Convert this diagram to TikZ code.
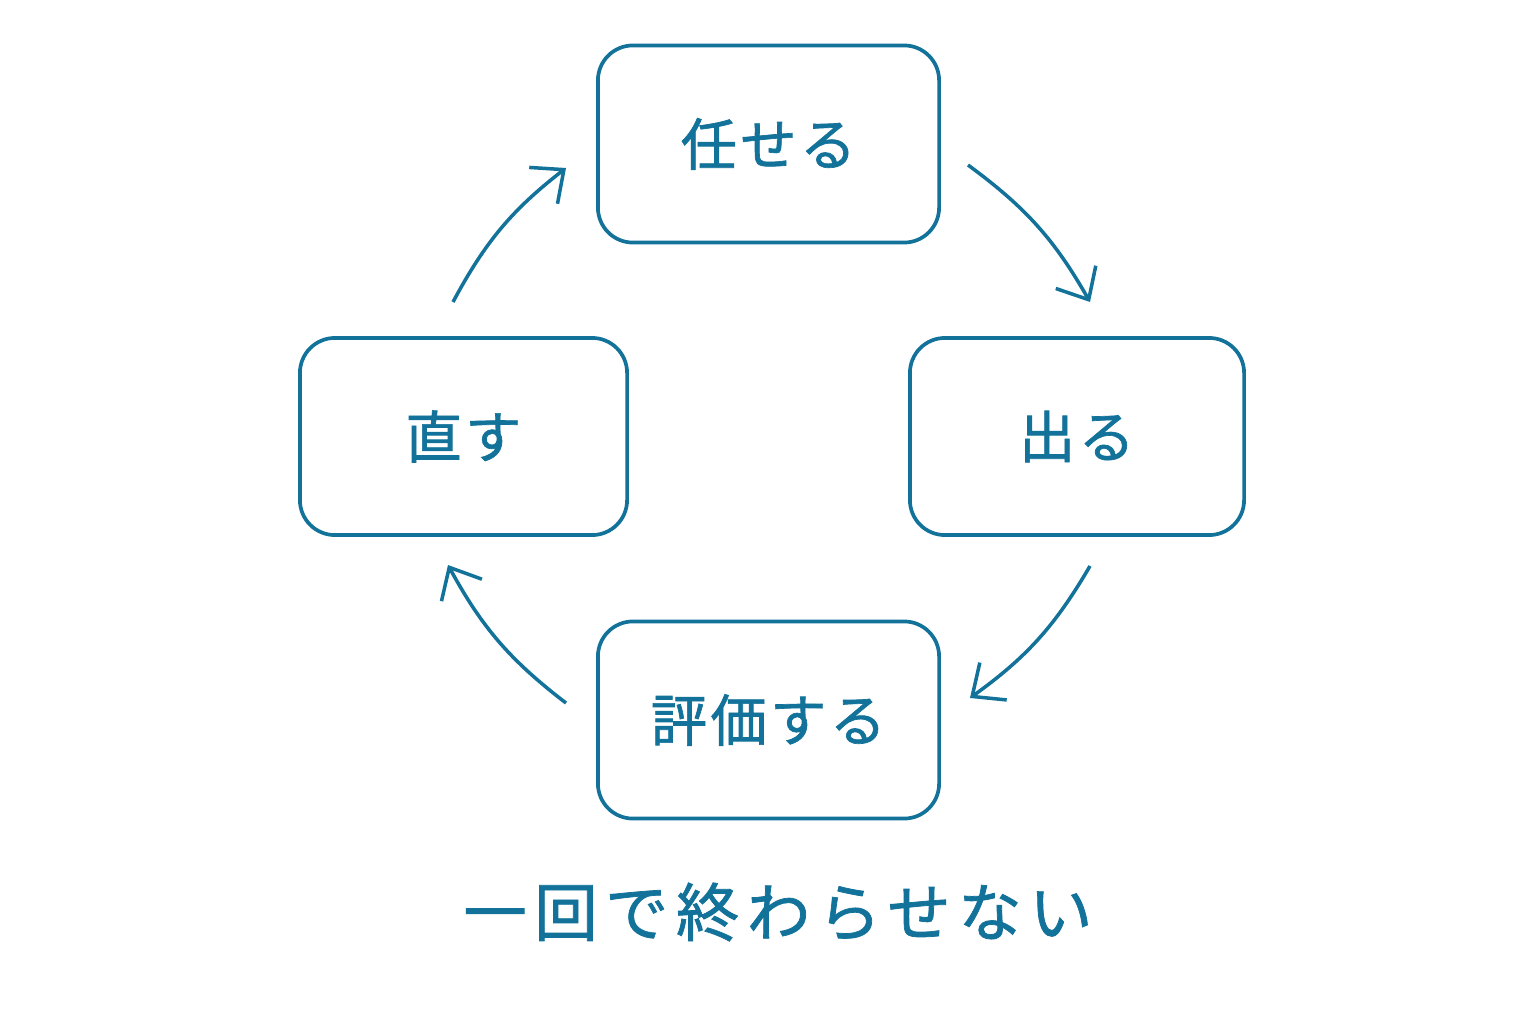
\documentclass[tikz,border=0pt]{standalone}
\usepackage{fontspec}
\newfontfamily\cjk[LetterSpace=6,FakeBold=1.2]{Noto Sans CJK JP}
\newfontfamily\cjkwide[LetterSpace=12,FakeBold=1.2]{Noto Sans CJK JP}
\usetikzlibrary{arrows.meta}
\definecolor{cyc}{HTML}{12729A}
\tikzset{
    stage/.style={draw=cyc, line width=1.05pt, rounded corners=0.35cm, minimum height=1.97cm, text=cyc, font=\cjk\fontsize{16}{18}\selectfont},
    flow/.style={draw=cyc, line width=1pt, -{Straight Barb[length=2.6mm,width=4.6mm]}}
}
\begin{document}
\begin{tikzpicture}[x=0.01cm, y=-0.01cm]

    % Canvas
    \useasboundingbox (0,0) rectangle (1536,1024);

    % The four steps
    \node[stage, minimum width=3.41cm] (entrust) at (768.5,144) {任せる};
    \node[stage, minimum width=3.34cm] (out) at (1077,436.5) {出る};
    \node[stage, minimum width=3.41cm] (review) at (768.5,720) {評価する};
    \node[stage, minimum width=3.27cm] (fix) at (463.5,436.5) {直す};

    % Arrow ends
    \coordinate (a1) at (968,165);  \coordinate (b1) at (1090,302);
    \coordinate (a2) at (1090,566); \coordinate (b2) at (970,698);
    \coordinate (a3) at (566,703);  \coordinate (b3) at (448,565);
    \coordinate (a4) at (453,302);  \coordinate (b4) at (566,168);

    % Cycle arrows
    \draw[flow] (a1) to[bend left=12] (b1);
    \draw[flow] (a2) to[bend left=12] (b2);
    \draw[flow] (a3) to[bend left=12] (b3);
    \draw[flow] (a4) to[bend left=12] (b4);

    % Caption
    \node[text=cyc, font=\cjkwide\fontsize{18}{20}\selectfont] (motto) at (778,912) {一回で終わらせない};

\end{tikzpicture}
\end{document}
